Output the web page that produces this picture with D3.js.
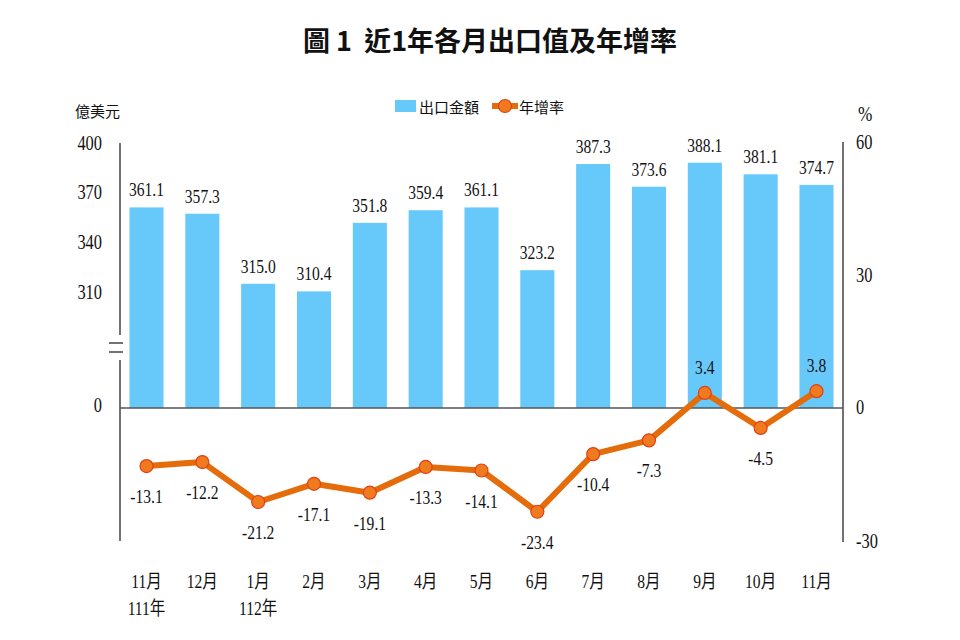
<!DOCTYPE html>
<html><head><meta charset="utf-8">
<script src="https://cdn.jsdelivr.net/npm/d3@7"></script>
<style>
html,body{margin:0;padding:0;background:#fff;}
text{font-family:"Liberation Serif","Noto Sans CJK TC",serif;fill:#111;}
</style></head>
<body><svg id="c" width="960" height="640"></svg>
<script>
const months = ["11月","12月","1月","2月","3月","4月","5月","6月","7月","8月","9月","10月","11月"];
const yearLabels = ["111年","","112年","","","","","","","","","",""];
const exportValues = [361.1,357.3,315.0,310.4,351.8,359.4,361.1,323.2,387.3,373.6,388.1,381.1,374.7];
const growthRates = [-13.1,-12.2,-21.2,-17.1,-19.1,-13.3,-14.1,-23.4,-10.4,-7.3,3.4,-4.5,3.8];
const leftTicks = [400,370,340,310];
const rightTicks = [60,30,0,-30];

const svg = d3.select("#c");
const X0 = 120, X1 = 843, Y0 = 408;
const x = d3.scaleBand().domain(d3.range(months.length)).range([X0, X1]).paddingInner(0.39).paddingOuter(0.17);
const yL = d3.scaleLinear().domain([240,400]).range([Y0,143]);
const yR = d3.scaleLinear().domain([-30,60]).range([541,142]);
const SX = 0.82;

function txt(g, px, py, s, size, anchor){
  return g.append("text").attr("transform",`translate(${px},${py}) scale(${SX},1)`)
    .attr("text-anchor",anchor||"middle").attr("dominant-baseline","central")
    .style("font-size",size+"px").text(s);
}

// title
svg.append("text").attr("x",490).attr("y",39).attr("text-anchor","middle").attr("dominant-baseline","central")
  .style("font-family","'Noto Sans CJK TC',sans-serif").style("font-weight","bold").style("font-size","27px")
  .attr("xml:space","preserve").text("圖 1  近1年各月出口值及年增率");

// bars
svg.append("g").selectAll("rect").data(exportValues).join("rect")
  .attr("x",(d,i)=>x(i)).attr("width",x.bandwidth())
  .attr("y",d=>yL(d)).attr("height",d=>Y0-yL(d)).attr("fill","#66C9FA");

// bar labels
const gl = svg.append("g");
exportValues.forEach((v,i)=>txt(gl, x(i)+x.bandwidth()/2, yL(v)-17, v.toFixed(1), 19));

// axes
const axisColor = "#444";
const ax = svg.append("g").attr("stroke",axisColor).attr("stroke-width",1.5).attr("fill","none");
ax.append("line").attr("x1",X0).attr("x2",X0).attr("y1",143).attr("y2",335);
ax.append("line").attr("x1",X0).attr("x2",X0).attr("y1",360).attr("y2",541);
ax.append("line").attr("x1",109).attr("x2",123).attr("y1",343).attr("y2",343);
ax.append("line").attr("x1",109).attr("x2",123).attr("y1",352).attr("y2",352);
ax.append("line").attr("x1",X1).attr("x2",X1).attr("y1",142).attr("y2",542);
ax.append("line").attr("x1",X0).attr("x2",X1).attr("y1",Y0).attr("y2",Y0).attr("stroke","#555");

// left tick labels
const gt = svg.append("g");
leftTicks.forEach(t=>txt(gt, 102, yL(t), String(t), 20, "end"));
txt(gt, 102, Y0-3, "0", 20, "end");
// right tick labels
rightTicks.forEach(t=>txt(gt, 856, yR(t)+(t===0?-1:0), String(t), 20, "start"));
// units
svg.append("text").attr("x",75).attr("y",110).attr("dominant-baseline","central")
  .style("font-family","'Noto Sans CJK TC',sans-serif").style("font-size","15px").text("億美元");
txt(gt, 858, 114, "%", 21, "start");

// x labels
months.forEach((m,i)=>{
  const cx = x(i)+x.bandwidth()/2;
  txt(gt, cx, 582, m, 19);
  if(yearLabels[i]) txt(gt, cx, 609, yearLabels[i], 19);
});

// line
const line = d3.line().x((d,i)=>x(i)+x.bandwidth()/2).y(d=>yR(d));
svg.append("path").datum(growthRates).attr("d",line).attr("fill","none")
  .attr("stroke","#E46C0A").attr("stroke-width",6).attr("stroke-linejoin","round");
svg.append("g").selectAll("circle").data(growthRates).join("circle")
  .attr("cx",(d,i)=>x(i)+x.bandwidth()/2).attr("cy",d=>yR(d)).attr("r",6.5)
  .attr("fill","#F07A1E").attr("stroke","#E0401A").attr("stroke-width",1.2);
const gr = svg.append("g");
growthRates.forEach((v,i)=>{
  const cx = x(i)+x.bandwidth()/2;
  txt(gr, cx, v>0 ? yR(v)-25 : yR(v)+31, v.toFixed(1), 19);
});

// legend
const lg = svg.append("g");
lg.append("rect").attr("x",395).attr("y",100).attr("width",21).attr("height",12).attr("fill","#66C9FA");
lg.append("text").attr("x",419).attr("y",106).attr("dominant-baseline","central")
  .style("font-family","'Noto Sans CJK TC',sans-serif").style("font-size","15px").text("出口金額");
lg.append("line").attr("x1",492).attr("x2",518).attr("y1",106).attr("y2",106).attr("stroke","#E46C0A").attr("stroke-width",6);
lg.append("circle").attr("cx",505).attr("cy",106).attr("r",6.5).attr("fill","#F07A1E").attr("stroke","#E0401A").attr("stroke-width",1.2);
lg.append("text").attr("x",519).attr("y",106).attr("dominant-baseline","central")
  .style("font-family","'Noto Sans CJK TC',sans-serif").style("font-size","15px").text("年增率");
</script></body></html>
